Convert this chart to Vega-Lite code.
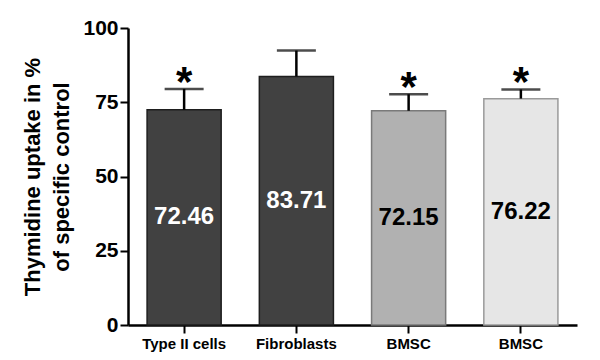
{
  "$schema": "https://vega.github.io/schema/vega-lite/v6.json",
  "autosize": "none",
  "width": 449,
  "height": 297,
  "padding": {"left": 128, "top": 28, "right": 23, "bottom": 35},
  "background": "white",
  "config": {"view": {"stroke": null}, "font": "Liberation Sans"},
  "data": {"values": [
    {"id": "a", "group": "Type II cells", "value": 72.46, "err": 79.5, "sig": "*", "kind": "dark"},
    {"id": "b", "group": "Fibroblasts", "value": 83.71, "err": 92.4, "sig": "", "kind": "dark"},
    {"id": "c", "group": "BMSC", "value": 72.15, "err": 77.7, "sig": "*", "kind": "gray"},
    {"id": "d", "group": "BMSC", "value": 76.22, "err": 79.3, "sig": "*", "kind": "dotted"}
  ]},
  "encoding": {
    "x": {"field": "id", "type": "nominal", "sort": null,
      "scale": {"paddingInner": 0.34, "paddingOuter": 0.17},
      "axis": {"title": null, "labelAngle": 0,
        "labelExpr": "datum.value == 'a' ? 'Type II cells' : datum.value == 'b' ? 'Fibroblasts' : 'BMSC'",
        "labelFont": "Liberation Sans", "labelFontWeight": "bold", "labelFontSize": 15, "labelColor": "black",
        "labelPadding": 3, "tickSize": 8, "tickWidth": 2, "tickColor": "black",
        "domainColor": "black", "domainWidth": 2.5}}
  },
  "layer": [
    {"mark": {"type": "bar", "strokeWidth": 1.5},
      "encoding": {
        "y": {"field": "value", "type": "quantitative",
          "scale": {"domain": [0, 100], "nice": false},
          "axis": {"values": [0, 25, 50, 75, 100], "grid": false,
            "title": ["Thymidine uptake in %", "of specific control"],
            "titleFont": "Liberation Sans", "titleFontWeight": "bold", "titleFontSize": 22, "titleColor": "black",
            "titleLineHeight": 29, "titlePadding": 9,
            "labelFont": "Liberation Sans", "labelFontWeight": "bold", "labelFontSize": 21, "labelColor": "black",
            "labelPadding": 2, "tickSize": 8, "tickWidth": 2, "tickColor": "black",
            "domainColor": "black", "domainWidth": 2.5}},
        "fill": {"field": "kind", "type": "nominal", "legend": null,
          "scale": {"domain": ["dark", "gray", "dotted"], "range": ["#414141", "#b1b1b1", "#e6e6e6"]}},
        "stroke": {"field": "kind", "type": "nominal", "legend": null,
          "scale": {"domain": ["dark", "gray", "dotted"], "range": ["#1e1e1e", "#7a7a7a", "#9a9a9a"]}}
      }},
    {"mark": {"type": "rule", "color": "black", "strokeWidth": 2.5},
      "encoding": {"y": {"field": "value", "type": "quantitative"}, "y2": {"field": "err"}}},
    {"mark": {"type": "tick", "color": "black", "thickness": 2.5, "size": 39},
      "encoding": {"y": {"field": "err", "type": "quantitative"}}},
    {"mark": {"type": "text", "font": "Liberation Sans", "fontWeight": "bold", "fontSize": 42, "baseline": "alphabetic", "dy": 7, "color": "black"},
      "encoding": {"y": {"field": "err", "type": "quantitative"}, "text": {"field": "sig"}}},
    {"transform": [{"calculate": "datum.value / 2", "as": "mid"}],
      "mark": {"type": "text", "font": "Liberation Sans", "fontWeight": "bold", "fontSize": 24, "baseline": "middle"},
      "encoding": {"y": {"field": "mid", "type": "quantitative"},
        "text": {"field": "value", "type": "quantitative", "format": ".2f"},
        "color": {"field": "kind", "type": "nominal", "legend": null,
          "scale": {"domain": ["dark", "gray", "dotted"], "range": ["white", "black", "black"]}}}}
  ]
}
